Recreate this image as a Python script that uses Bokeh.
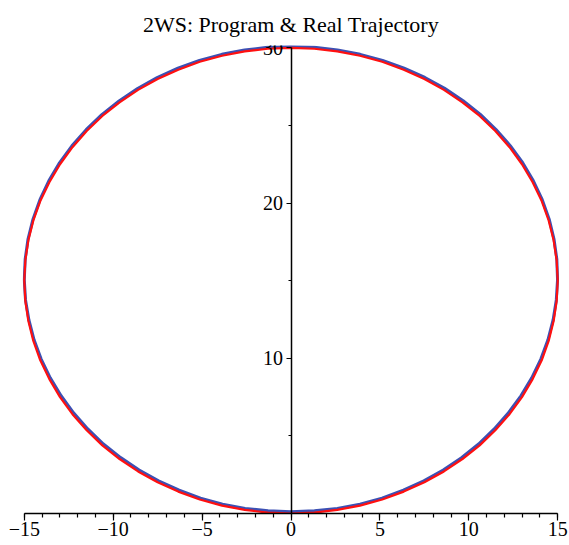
from bokeh.plotting import figure
from bokeh.models import LinearAxis, FixedTicker, Range1d
from bokeh.embed import file_html
from bokeh.resources import INLINE

# Program trajectory (planned path of the 2WS vehicle)
program_x = [0.0, 1.31, 2.60, 3.88, 5.13, 6.34, 7.50, 8.60, 9.64, 10.61, 11.49, 12.29,
             12.99, 13.59, 14.10, 14.49, 14.77, 14.94, 15.0, 14.94, 14.77, 14.49, 14.10,
             13.59, 12.99, 12.29, 11.49, 10.61, 9.64, 8.60, 7.50, 6.34, 5.13, 3.88, 2.60,
             1.31, 0.0, -1.31, -2.60, -3.88, -5.13, -6.34, -7.50, -8.60, -9.64, -10.61,
             -11.49, -12.29, -12.99, -13.59, -14.10, -14.49, -14.77, -14.94, -15.0,
             -14.94, -14.77, -14.49, -14.10, -13.59, -12.99, -12.29, -11.49, -10.61,
             -9.64, -8.60, -7.50, -6.34, -5.13, -3.88, -2.60, -1.31, 0.0]
program_y = [0.0, 0.06, 0.23, 0.51, 0.90, 1.41, 2.01, 2.71, 3.51, 4.39, 5.36, 6.40,
             7.50, 8.66, 9.87, 11.12, 12.40, 13.69, 15.0, 16.31, 17.60, 18.88, 20.13,
             21.34, 22.50, 23.60, 24.64, 25.61, 26.49, 27.29, 27.99, 28.59, 29.10, 29.49,
             29.77, 29.94, 30.0, 29.94, 29.77, 29.49, 29.10, 28.59, 27.99, 27.29, 26.49,
             25.61, 24.64, 23.60, 22.50, 21.34, 20.13, 18.88, 17.60, 16.31, 15.0, 13.69,
             12.40, 11.12, 9.87, 8.66, 7.50, 6.40, 5.36, 4.39, 3.51, 2.71, 2.01, 1.41,
             0.90, 0.51, 0.23, 0.06, 0.0]

# Real trajectory (simulated vehicle path)
real_x = [0.0, 1.32, 2.61, 3.88, 5.12, 6.32, 7.47, 8.56, 9.59, 10.55, 11.43, 12.23,
          12.93, 13.54, 14.05, 14.45, 14.74, 14.92, 14.99, 14.95, 14.79, 14.52, 14.13,
          13.63, 13.03, 12.33, 11.53, 10.65, 9.68, 8.64, 7.53, 6.36, 5.15, 3.89, 2.61,
          1.31, 0.0, -1.31, -2.61, -3.89, -5.15, -6.36, -7.53, -8.63, -9.67, -10.64,
          -11.52, -12.32, -13.02, -13.62, -14.12, -14.51, -14.79, -14.95, -15.0,
          -14.93, -14.74, -14.45, -14.05, -13.54, -12.93, -12.23, -11.43, -10.55,
          -9.58, -8.54, -7.45, -6.29, -5.09, -3.85, -2.58, -1.29, 0.0]
real_y = [0.12, 0.17, 0.33, 0.60, 0.99, 1.50, 2.10, 2.80, 3.60, 4.48, 5.45, 6.49,
          7.58, 8.74, 9.95, 11.19, 12.47, 13.76, 15.06, 16.38, 17.68, 18.96, 20.22,
          21.43, 22.60, 23.70, 24.74, 25.71, 26.59, 27.39, 28.09, 28.69, 29.19, 29.58,
          29.86, 30.03, 30.08, 30.03, 29.86, 29.58, 29.19, 28.69, 28.08, 27.38, 26.58,
          25.70, 24.73, 23.69, 22.59, 21.43, 20.22, 18.96, 17.68, 16.38, 15.06, 13.76,
          12.47, 11.19, 9.95, 8.74, 7.59, 6.49, 5.45, 4.48, 3.60, 2.80, 2.10, 1.50,
          0.99, 0.60, 0.33, 0.17, 0.12]

x_major = [-15, -10, -5, 0, 5, 10, 15]
x_minor = list(range(-15, 16))
x_labels = {-15: "\u221215", -10: "\u221210", -5: "\u22125", 0: "0",
            5: "5", 10: "10", 15: "15"}
y_major = [10, 20, 30]
y_minor = [5, 15, 25]

FONT = "Liberation Serif"

p = figure(width=569, height=545,
           x_range=Range1d(-15.1, 15.1), y_range=Range1d(0, 30.15),
           output_backend="svg", toolbar_location=None,
           x_axis_location=None, y_axis_location=None,
           min_border_left=22, min_border_right=10,
           min_border_top=44, min_border_bottom=32,
           title="2WS: Program & Real Trajectory")
p.title.text_font = FONT
p.title.text_font_size = "22px"
p.title.text_font_style = "normal"
p.title.align = "center"
p.title.text_color = "black"
p.title.standoff = 18

p.grid.visible = False
p.outline_line_color = None
p.background_fill_color = "white"
p.border_fill_color = "white"

xaxis = LinearAxis(ticker=FixedTicker(ticks=x_major, minor_ticks=x_minor),
                   bounds=(-15, 15), major_label_overrides=x_labels)
yaxis = LinearAxis(ticker=FixedTicker(ticks=y_major, minor_ticks=y_minor),
                   bounds=(0, 30), fixed_location=0)

for ax in (xaxis, yaxis):
    ax.axis_line_width = 1.5
    ax.axis_line_color = "black"
    ax.major_tick_line_color = "black"
    ax.minor_tick_line_color = "black"
    ax.major_tick_line_width = 1.2
    ax.minor_tick_line_width = 1.2
    ax.major_tick_in = 0
    ax.minor_tick_in = 0
    ax.major_label_text_font = FONT
    ax.major_label_text_font_size = "20px"
    ax.major_label_text_color = "black"

xaxis.major_tick_out = 7
xaxis.minor_tick_out = 4
xaxis.major_label_standoff = 1
yaxis.major_tick_out = 5
yaxis.minor_tick_out = 3
yaxis.major_label_standoff = 3

p.add_layout(xaxis, "below")
p.add_layout(yaxis, "left")

p.line(real_x, real_y, line_color="#3c50b4", line_width=3)
p.line(program_x, program_y, line_color="#ff1010", line_width=2.2)

open("out.html", "w").write(file_html(p, INLINE))
